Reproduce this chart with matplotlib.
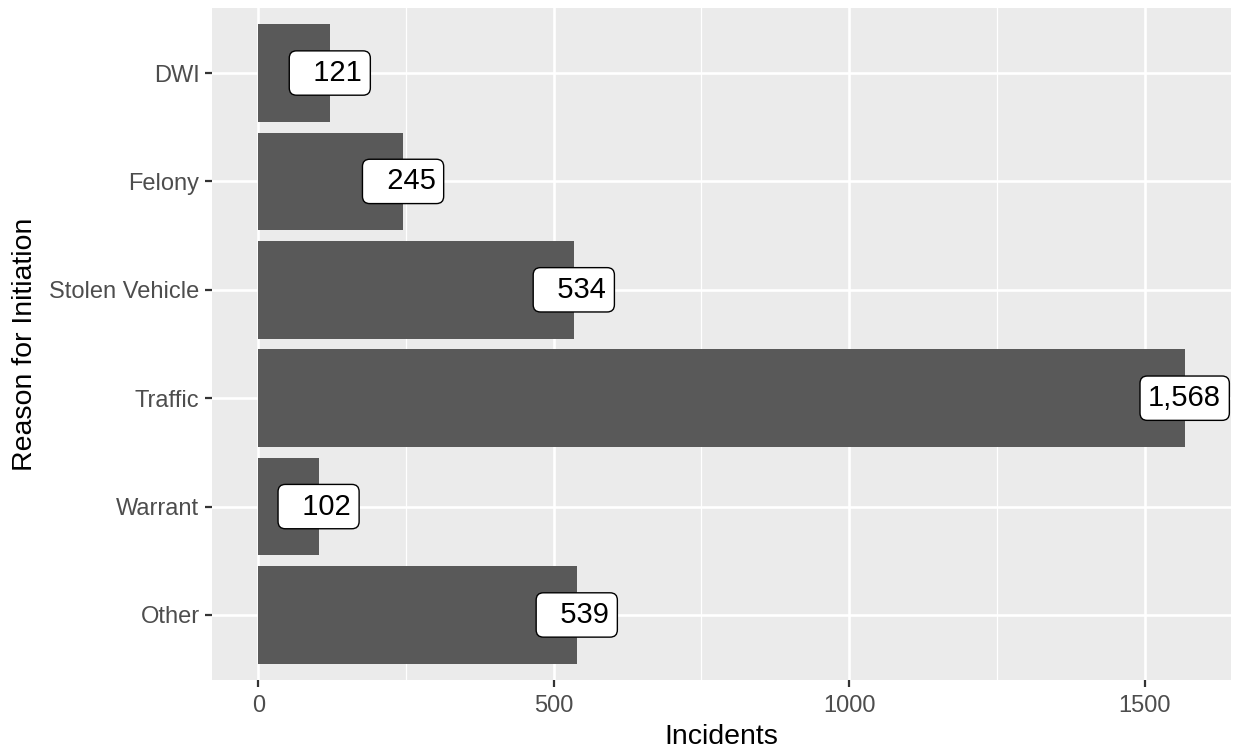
import matplotlib
matplotlib.use("Agg")
import matplotlib.pyplot as plt
from matplotlib.ticker import MultipleLocator

plt.rcParams['font.family'] = ['Liberation Sans', 'DejaVu Sans']

categories = ["DWI", "Felony", "Stolen Vehicle", "Traffic", "Warrant", "Other"]
incidents = [121, 245, 534, 1568, 102, 539]
x_ticks = [0, 500, 1000, 1500]

W, H = 1233, 753
fig = plt.figure(figsize=(W / 100, H / 100), dpi=100)
left, right, top, bottom = 212, 1231, 8, 680
ax = fig.add_axes([left / W, 1 - bottom / H, (right - left) / W, (bottom - top) / H])
ax.set_facecolor('#EBEBEB')

n = len(categories)
ypos = [n - i for i in range(n)]
ax.barh(ypos, incidents, height=0.9, color='#595959', zorder=3)

for y, v in zip(ypos, incidents):
    lab = f"{v:,}".rjust(5)
    ax.text(v, y, lab, ha='center', va='center', fontsize=21, color='black', zorder=5,
            bbox=dict(boxstyle='round,pad=0.28,rounding_size=0.25', fc='white', ec='black', lw=1.0))

vmax = max(incidents)
ax.set_xlim(-0.05 * vmax, 1.05 * vmax)
ax.set_ylim(0.4, n + 0.6)
ax.set_xticks(x_ticks)
ax.set_xticklabels([str(t) for t in x_ticks])
ax.xaxis.set_minor_locator(MultipleLocator(250))
ax.set_yticks(ypos)
ax.set_yticklabels(categories)

ax.grid(which='major', axis='both', color='white', lw=1.9, zorder=1)
ax.grid(which='minor', axis='x', color='white', lw=0.9, zorder=1)
for s in ax.spines.values():
    s.set_visible(False)
ax.tick_params(axis='both', which='major', length=5, width=1.6, color='#333333',
               labelsize=17, labelcolor='#4D4D4D', pad=4)
ax.tick_params(axis='x', which='major', pad=6)
ax.tick_params(axis='both', which='minor', length=0)

ax.set_xlabel("Incidents", fontsize=20.5, color='black', labelpad=5)
ax.set_ylabel("Reason for Initiation", fontsize=20.5, color='black', labelpad=8)

fig.savefig("out.png", dpi=100)
